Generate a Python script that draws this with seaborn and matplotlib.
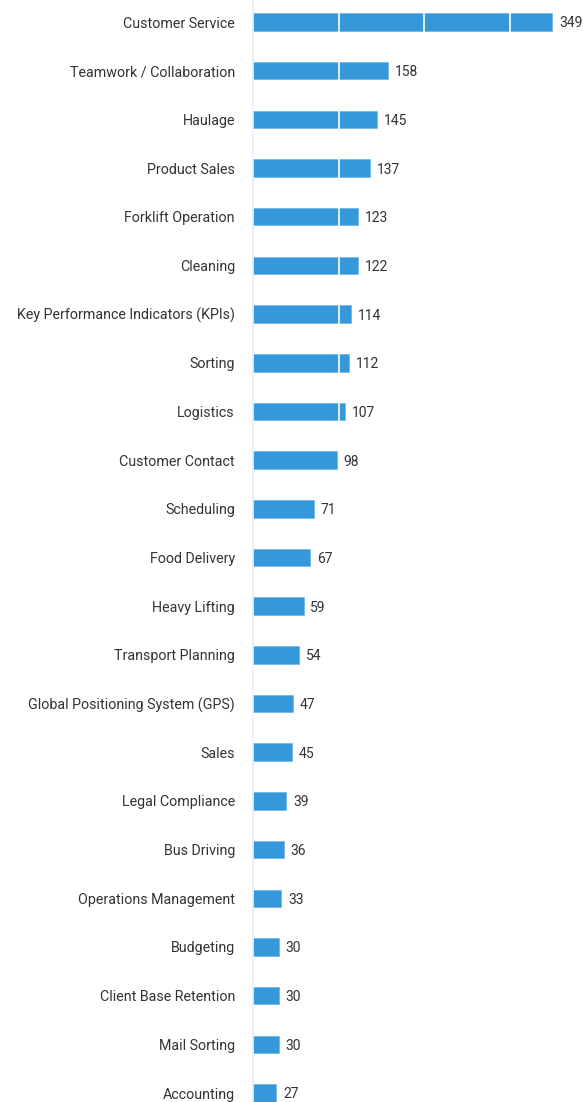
import pandas as pd
import matplotlib
matplotlib.use("Agg")
import matplotlib.pyplot as plt
import seaborn as sns

skills = [
    "Customer Service", "Teamwork / Collaboration", "Haulage", "Product Sales",
    "Forklift Operation", "Cleaning", "Key Performance Indicators (KPIs)",
    "Sorting", "Logistics", "Customer Contact", "Scheduling", "Food Delivery",
    "Heavy Lifting", "Transport Planning", "Global Positioning System (GPS)",
    "Sales", "Legal Compliance", "Bus Driving", "Operations Management",
    "Budgeting", "Client Base Retention", "Mail Sorting", "Accounting",
]
counts = [349, 158, 145, 137, 123, 122, 114, 112, 107, 98, 71, 67, 59, 54,
          47, 45, 39, 36, 33, 30, 30, 30, 27]

df = pd.DataFrame({"skill": skills, "count": counts})

sns.set_style("white")
plt.rcParams["font.family"] = ["Roboto", "DejaVu Sans"]

W, H = 583, 1102
fig = plt.figure(figsize=(W / 100, H / 100), dpi=100)
ax = fig.add_axes([253 / W, 0, (W - 253) / W, 1])

sns.barplot(data=df, y="skill", x="count", orient="h", color="#3498db",
            width=0.36, saturation=1, edgecolor="#5dade2", linewidth=0.4, ax=ax)

# pixel mapping: first bar centre at 22px, last at 1093px
step = (1093 - 22) / (len(skills) - 1)
ax.set_ylim(len(skills) - 1 + (H - 1093) / step, -22 / step)
ax.set_xlim(0, (W - 253) / ((552 - 253) / 349))

# white gridlines over the bars
for gx in [100, 200, 300]:
    ax.axvline(gx, color="white", lw=1.2, zorder=5)

for i, v in enumerate(counts):
    ax.text(v + 8, i + 0.03, str(v), va="center", ha="left", fontsize=10,
            color="#333333", zorder=6)

ax.set_xlabel("")
ax.set_ylabel("")
ax.set_xticks([])
ax.tick_params(axis="y", length=0, pad=13, labelsize=10.3, labelcolor="#333333")
for s in ["top", "right", "bottom"]:
    ax.spines[s].set_visible(False)
ax.spines["left"].set_color("#ebebf7")
ax.spines["left"].set_linewidth(1.2)

fig.savefig("out.png", dpi=100)
